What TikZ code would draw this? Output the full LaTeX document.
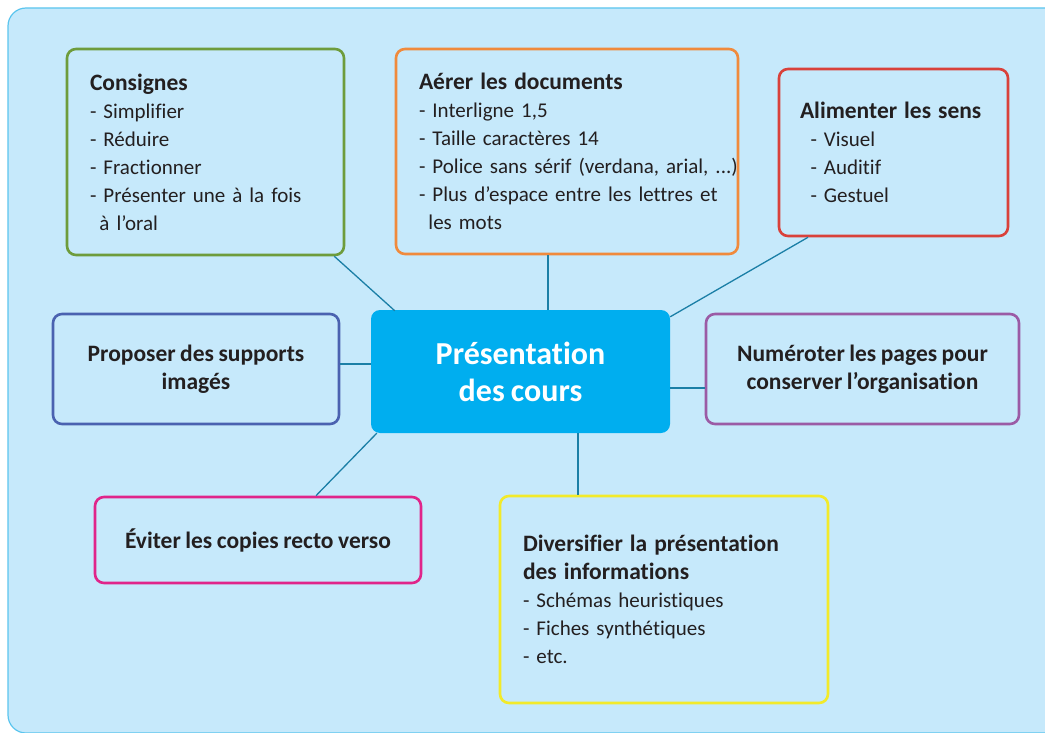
\documentclass[tikz,border=0pt]{standalone}
\usepackage{fontspec}
\setmainfont{Carlito}[Ligatures=NoCommon, WordSpace=0.85]
\definecolor{panelfill}{HTML}{C6E9FB}
\definecolor{panelline}{HTML}{5BC5EE}
\definecolor{ctrfill}{HTML}{00AEEF}
\definecolor{cgreen}{HTML}{6E9C3C}
\definecolor{corange}{HTML}{F08A3C}
\definecolor{cred}{HTML}{D9413A}
\definecolor{cblue}{HTML}{4A62B0}
\definecolor{cpurple}{HTML}{9B5BA5}
\definecolor{cmagenta}{HTML}{E0258A}
\definecolor{cyellow}{HTML}{F2EA2A}
\definecolor{clink}{HTML}{1B7FA6}
\definecolor{ctext}{HTML}{231F20}
\newcommand{\ttl}[1]{\mbox{\bfseries\fontsize{23.5}{28}\selectfont #1}}
\newcommand{\itm}[1]{\mbox{#1}}
\tikzset{
  box/.style={draw, line width=2.6pt, rounded corners=9pt, fill=panelfill,
    text=ctext, font=\fontsize{21}{28}\selectfont, inner ysep=0pt},
  lbox/.style={box, align=left, inner xsep=23pt},
  cbox/.style={box, align=center, inner sep=0pt, font=\bfseries\fontsize{23.5}{28}\selectfont},
  link/.style={draw=clink, line width=1.3pt},
}
\begin{document}
\begin{tikzpicture}[x=1pt,y=-1pt]
\useasboundingbox (0,0) rectangle (1045,733);
\path[fill=panelfill, draw=panelline, line width=1.2pt, rounded corners=18pt] (8,8) rectangle (1065,733);
\node[lbox, draw=cgreen, minimum width=277pt, minimum height=206pt, text width=231pt] (cons) at (205.5,152)
  {\ttl{Consignes}\\\itm{- Simplifier}\\\itm{- Réduire}\\\itm{- Fractionner}\\\itm{- Présenter une à la fois}\\\itm{\hspace*{0.45em}à l’oral}};
\node[lbox, draw=corange, minimum width=342pt, minimum height=205pt, text width=296pt] (aer) at (567,151.5)
  {\ttl{Aérer les documents}\\\itm{- Interligne 1,5}\\\itm{- Taille caractères 14}\\\itm{- Police sans sérif (verdana, arial, ...)}\\\itm{- Plus d’espace entre les lettres et}\\\itm{\hspace*{0.45em}les mots}};
\node[lbox, draw=cred, minimum width=229pt, minimum height=167pt, text width=187pt, inner xsep=21pt] (ali) at (893.5,152.5)
  {\ttl{Alimenter les sens}\\\itm{\hspace*{0.5em}- Visuel}\\\itm{\hspace*{0.5em}- Auditif}\\\itm{\hspace*{0.5em}- Gestuel}};
\node[cbox, draw=cblue, minimum width=286pt, minimum height=110pt] (prop) at (196,369)
  {Proposer des supports\\imagés};
\node[draw=none, fill=ctrfill, rounded corners=9pt, minimum width=299pt, minimum height=123pt,
  text=white, align=center, font=\bfseries\fontsize{32}{37}\selectfont] (ctr) at (520.5,371.5)
  {Présentation\\des cours};
\node[cbox, draw=cpurple, minimum width=313pt, minimum height=110pt] (num) at (862.5,369)
  {Numéroter les pages pour\\conserver l’organisation};
\node[cbox, draw=cmagenta, minimum width=326pt, minimum height=86pt] (evi) at (258,540)
  {Éviter les copies recto verso};
\node[lbox, draw=cyellow, minimum width=328pt, minimum height=207pt, text width=282pt] (div) at (664,599.5)
  {\ttl{Diversifier la présentation}\\\ttl{des informations}\\\itm{- Schémas heuristiques}\\\itm{- Fiches synthétiques}\\\itm{- etc.}};
\draw[link] ([xshift=-11pt]cons.south east) -- ([xshift=24pt,yshift=-1pt]ctr.north west);
\draw[link] ([xshift=-19pt]aer.south) -- ([xshift=27.5pt]ctr.north);
\draw[link] ([xshift=-85.5pt]ali.south) -- ([yshift=-7pt]ctr.north east);
\draw[link] ([yshift=5pt]prop.east) -- ([yshift=5pt]prop.east -| ctr.west);
\draw[link] ([yshift=-16.5pt]ctr.east) -- ([yshift=-16.5pt]ctr.east -| num.west);
\draw[link] ([xshift=58pt]evi.north) -- ([xshift=6pt]ctr.south west);
\draw[link] ([xshift=57.5pt]ctr.south) -- ([xshift=57.5pt]ctr.south |- div.north);
\end{tikzpicture}
\end{document}
